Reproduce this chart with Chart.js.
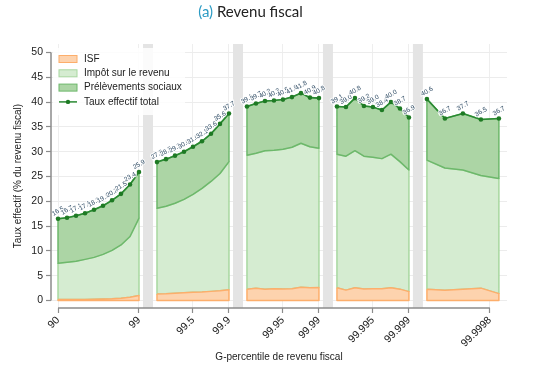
<!DOCTYPE html>
<html lang="fr">
<head>
<meta charset="UTF-8" />
<title>Revenu fiscal</title>
<script src="https://cdn.jsdelivr.net/npm/chart.js"></script>
<style>
  html, body { margin: 0; padding: 0; background: #fff; }
  #wrap { position: relative; width: 533px; height: 373px; }
</style>
</head>
<body>
<div id="wrap"><canvas id="taux" width="533" height="373"></canvas></div>
<script>
// g-percentiles, one list per panel (P90-99, P99-99.9, P99.9-99.99, ...)
const percentiles = [
  [90, 91, 92, 93, 94, 95, 96, 97, 98, 99],
  [99.1, 99.2, 99.3, 99.4, 99.5, 99.6, 99.7, 99.8, 99.9],
  [99.91, 99.92, 99.93, 99.94, 99.95, 99.96, 99.97, 99.98, 99.99],
  [99.991, 99.992, 99.993, 99.994, 99.995, 99.996, 99.997, 99.998, 99.999],
  [99.9991, 99.9993, 99.9995, 99.9997, 99.9999]
];
const isf = [
  [0.2, 0.2, 0.2, 0.2, 0.25, 0.3, 0.35, 0.45, 0.65, 1.0],
  [1.3, 1.35, 1.45, 1.55, 1.65, 1.7, 1.85, 2.0, 2.2],
  [2.3, 2.5, 2.3, 2.4, 2.35, 2.4, 2.7, 2.6, 2.65],
  [2.6, 2.1, 2.6, 2.35, 2.4, 2.4, 2.6, 2.3, 1.8],
  [2.3, 2.1, 2.3, 2.5, 1.4]
];
const impot = [
  [7.3, 7.5, 7.7, 8.1, 8.45, 9.0, 9.75, 10.75, 12.25, 15.6],
  [17.3, 17.65, 18.15, 18.85, 19.75, 20.9, 22.15, 23.6, 25.8],
  [27.0, 27.2, 27.9, 27.9, 28.15, 28.5, 29.0, 28.4, 28.05],
  [26.9, 27.0, 27.6, 26.75, 26.5, 26.2, 26.9, 25.7, 24.5],
  [26.0, 24.6, 24.0, 22.7, 23.2]
];
const tauxTotal = [
  [16.5, 16.7, 17.1, 17.6, 18.3, 19.1, 20.2, 21.5, 23.4, 25.9],
  [27.9, 28.5, 29.2, 30.0, 31.0, 32.1, 33.6, 35.6, 37.7],
  [39.1, 39.7, 40.2, 40.3, 40.5, 41.0, 41.8, 40.9, 40.8],
  [39.1, 39.0, 40.8, 39.2, 39.0, 38.4, 40.0, 38.7, 36.9],
  [40.6, 36.7, 37.7, 36.5, 36.7]
];
const xTicks = [90, 99, 99.5, 99.9, 99.95, 99.99, 99.995, 99.999, 99.9998];
const yTicks = [0, 5, 10, 15, 20, 25, 30, 35, 40, 45, 50];

const panelStart = [90, 99, 99.9, 99.99, 99.999];
const panelStep = [1, 0.1, 0.01, 0.001, 0.0001];

// each panel gets 10 slots on the axis
function toPos(p) {
  let k = 0;
  for (let j = 1; j < panelStart.length; j++) {
    if (p > panelStart[j] + 1e-9) k = j;
  }
  return 10 * k + (p - panelStart[k]) / panelStep[k];
}

const FONT = '"Liberation Sans", Arial, sans-serif';

const layers = [
  { name: 'ISF', bg: '#fdd3ae', border: '#fdae6b', order: 3 },
  { name: 'Impôt sur le revenu', bg: '#d5ecd1', border: '#a8d8a0', order: 4 },
  { name: 'Prélèvements sociaux', bg: '#acd5a5', border: '#6db86b', order: 2 }
];
const totalStyle = { name: 'Taux effectif total', line: '#2a8a32', dot: '#1e7a24' };

function polygon(xs, lo, hi) {
  const top = xs.map((x, i) => ({ x: x, y: hi[i] }));
  const bottom = xs.map((x, i) => ({ x: x, y: lo[i] })).reverse();
  return top.concat(bottom, [top[0]]);
}

const datasets = [];
percentiles.forEach((ps, k) => {
  const xs = ps.map(toPos);
  const zero = xs.map(() => 0);
  const irTop = isf[k].map((v, i) => v + impot[k][i]);
  const bands = [[zero, isf[k]], [isf[k], irTop], [irTop, tauxTotal[k]]];
  bands.forEach((b, li) => {
    datasets.push({
      label: layers[li].name,
      data: polygon(xs, b[0], b[1]),
      fill: 'shape',
      backgroundColor: layers[li].bg,
      borderColor: layers[li].border,
      borderWidth: 1.5,
      borderJoinStyle: 'round',
      pointRadius: 0,
      tension: 0,
      order: layers[li].order
    });
  });
  datasets.push({
    label: totalStyle.name,
    isTotal: true,
    data: xs.map((x, i) => ({ x: x, y: tauxTotal[k][i] })),
    fill: false,
    borderColor: totalStyle.line,
    borderWidth: 1.6,
    pointRadius: 2.3,
    pointBackgroundColor: totalStyle.dot,
    pointBorderWidth: 0,
    tension: 0,
    order: 1
  });
});

const separators = {
  id: 'separators',
  beforeDatasetsDraw(chart) {
    const { ctx, chartArea } = chart;
    const x = chart.scales.x;
    ctx.save();
    ctx.fillStyle = '#e4e4e4';
    for (let k = 1; k < percentiles.length; k++) {
      const prev = percentiles[k - 1];
      const mid = (toPos(prev[prev.length - 1]) + toPos(percentiles[k][0])) / 2;
      const cx = x.getPixelForValue(mid);
      ctx.fillRect(cx - 5, chartArea.top, 10, chartArea.bottom - chartArea.top);
    }
    ctx.restore();
  }
};

const valueLabels = {
  id: 'valueLabels',
  afterDatasetsDraw(chart) {
    const ctx = chart.ctx;
    chart.data.datasets.forEach((ds, di) => {
      if (!ds.isTotal) return;
      chart.getDatasetMeta(di).data.forEach((pt, i) => {
        const txt = ds.data[i].y.toFixed(1);
        ctx.save();
        ctx.translate(pt.x, pt.y - 7.5);
        ctx.rotate(-Math.PI / 6);
        ctx.font = '6.5px ' + FONT;
        ctx.textAlign = 'center';
        ctx.textBaseline = 'middle';
        ctx.lineWidth = 2;
        ctx.strokeStyle = 'rgba(255,255,255,0.9)';
        ctx.strokeText(txt, 0, 0);
        ctx.fillStyle = '#2d4a63';
        ctx.fillText(txt, 0, 0);
        ctx.restore();
      });
    });
  }
};

const axesAndLegend = {
  id: 'axesAndLegend',
  afterDraw(chart) {
    const { ctx, chartArea } = chart;
    const { x, y } = chart.scales;
    ctx.save();
    // axis lines only over the data range
    ctx.strokeStyle = '#8c8c8c';
    ctx.lineWidth = 1.5;
    ctx.beginPath();
    ctx.moveTo(chartArea.left, y.getPixelForValue(yTicks[0]));
    ctx.lineTo(chartArea.left, y.getPixelForValue(yTicks[yTicks.length - 1]));
    ctx.moveTo(x.getPixelForValue(toPos(xTicks[0])), chartArea.bottom);
    ctx.lineTo(x.getPixelForValue(toPos(xTicks[xTicks.length - 1])), chartArea.bottom);
    ctx.stroke();

    // legend
    ctx.fillStyle = 'rgba(255,255,255,0.85)';
    ctx.fillRect(53, 48, 132, 67);
    ctx.font = '10px ' + FONT;
    ctx.textBaseline = 'middle';
    ctx.textAlign = 'left';
    const rowY = [59, 73.3, 87.6, 101.9];
    layers.forEach((l, i) => {
      ctx.fillStyle = l.bg;
      ctx.fillRect(59, rowY[i] - 3.5, 18, 7);
      ctx.strokeStyle = l.border;
      ctx.lineWidth = 1;
      ctx.strokeRect(59, rowY[i] - 3.5, 18, 7);
      ctx.fillStyle = '#222';
      ctx.fillText(l.name, 84, rowY[i]);
    });
    ctx.strokeStyle = totalStyle.line;
    ctx.lineWidth = 1.5;
    ctx.beginPath();
    ctx.moveTo(59, rowY[3]);
    ctx.lineTo(77, rowY[3]);
    ctx.stroke();
    ctx.fillStyle = totalStyle.dot;
    ctx.beginPath();
    ctx.arc(68, rowY[3], 2.2, 0, Math.PI * 2);
    ctx.fill();
    ctx.fillStyle = '#222';
    ctx.fillText(totalStyle.name, 84, rowY[3]);

    // title
    const part1 = '(a) ', part2 = 'Revenu fiscal';
    ctx.font = '15px Lato, "Open Sans", sans-serif';
    ctx.textBaseline = 'alphabetic';
    const w1 = ctx.measureText(part1).width, w2 = ctx.measureText(part2).width;
    const x0 = 250.5 - (w1 + w2) / 2;
    ctx.fillStyle = '#2b9bc4';
    ctx.fillText(part1, x0, 17);
    ctx.fillStyle = '#222';
    ctx.fillText(part2, x0 + w1, 17);
    ctx.restore();
  }
};

new Chart(document.getElementById('taux').getContext('2d'), {
  type: 'line',
  data: { datasets: datasets },
  options: {
    responsive: false,
    animation: false,
    events: [],
    layout: { padding: { top: 44, right: 26, bottom: 0, left: 0 } },
    plugins: {
      legend: { display: false },
      tooltip: { enabled: false }
    },
    scales: {
      x: {
        type: 'linear',
        min: -0.78,
        max: 49.9,
        afterBuildTicks: s => { s.ticks = xTicks.map(p => ({ value: toPos(p) })); },
        afterFit: s => { s.height = 65; s.paddingLeft = 0; s.paddingRight = 0; },
        border: { display: false },
        grid: { color: '#eeeeee', tickColor: '#8c8c8c', tickLength: 5, tickWidth: 1.2 },
        ticks: {
          autoSkip: false,
          minRotation: 45,
          maxRotation: 45,
          padding: 1,
          color: '#222',
          font: { family: FONT, size: 10.5 },
          callback: (v, i) => String(xTicks[i])
        },
        title: {
          display: true,
          text: 'G-percentile de revenu fiscal',
          color: '#222',
          font: { family: FONT, size: 10 },
          padding: { top: 0, bottom: 10 }
        }
      },
      y: {
        min: -1.5,
        max: 51.7,
        afterBuildTicks: s => { s.ticks = yTicks.map(v => ({ value: v })); },
        afterFit: s => { s.width = 51; s.paddingTop = 0; s.paddingBottom = 0; },
        border: { display: false },
        grid: { color: '#ececec', tickColor: '#8c8c8c', tickLength: 5, tickWidth: 1.2 },
        ticks: {
          padding: 3,
          color: '#222',
          font: { family: FONT, size: 10.5 }
        },
        title: {
          display: true,
          text: 'Taux effectif (% du revenu fiscal)',
          color: '#222',
          font: { family: FONT, size: 10 },
          padding: { top: 12, bottom: 0 }
        }
      }
    }
  },
  plugins: [separators, valueLabels, axesAndLegend]
});
</script>
</body>
</html>
